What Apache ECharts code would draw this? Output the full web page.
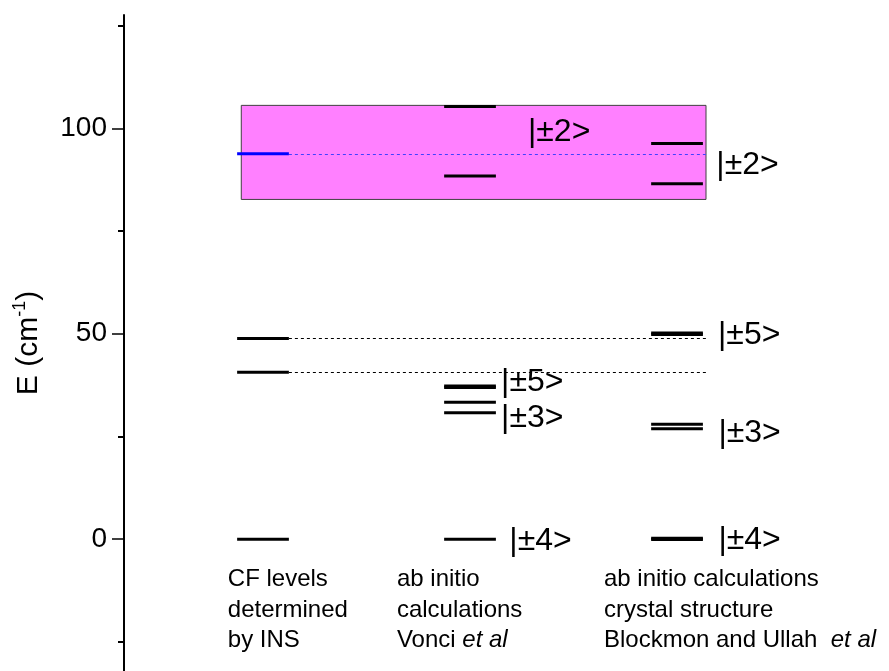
<!DOCTYPE html>
<html>
<head>
<meta charset="utf-8">
<script src="https://cdn.jsdelivr.net/npm/echarts@6/dist/echarts.min.js"></script>
<style>
  html, body { margin: 0; padding: 0; background: #fff; }
  #chart { width: 889px; height: 671px; }
</style>
</head>
<body>
<div id="chart"></div>
<script>
// Crystal-field level scheme: measured (INS) vs. two ab initio calculations.
const FONT = '"Liberation Sans", Arial, Helvetica, sans-serif';

// Column positions on the (hidden) horizontal axis
const columns = [1, 2, 3];

// Energy levels, cm^-1
const insLevels = [0, 40.6, 48.85, 93.8];
const vonciLevels = [0, 30.8, 33.3, 36.9, 37.3, 88.4, 105.3];
const blockmonLevels = [-0.1, 0.2, 26.9, 28.0, 49.8, 50.2, 86.5, 96.3];
const highlightedInsLevel = 93.8;

// Energy window of the |±2> manifold (shaded band)
const bandEnergy = [82.7, 105.6];

// Column captions
const columnCaptions = [
  'CF levels\ndetermined\nby INS',
  'ab initio\ncalculations\nVonci {i|et al}',
  'ab initio calculations\ncrystal structure\nBlockmon and Ullah  {i|et al}'
];

// State labels and where they sit (column units, energy)
const stateLabels = ['|±2>', '|±2>', '|±5>', '|±3>', '|±4>', '|±5>', '|±3>', '|±4>'];
const stateLabelX = [2.28, 3.19, 2.15, 2.15, 2.19, 3.198, 3.2, 3.2];
const stateLabelEnergy = [99, 91, 38.2, 29.4, -0.4, 49.7, 25.8, -0.2];

// Axis ticks
const yMajorTicks = [0, 50, 100];
const yMinorTicks = [-25, 25, 75, 125];

// Layout of the drawing
const LEVEL_HALF_WIDTH = 0.125;
const X_RANGE = [0.3285, 4.024];
const Y_RANGE = [-32.1, 127.6];
const BAND_X = [0.895, 3.14];
const GUIDE_END_X = 3.14;
const CAPTION_X = [0.83, 1.647, 2.647];
const CAPTION_TOP_ENERGY = -6.1;

const levelData = [];
[insLevels, vonciLevels, blockmonLevels].forEach((levels, ci) => {
  levels.forEach(e => {
    const blue = ci === 0 && e === highlightedInsLevel;
    levelData.push({ value: [columns[ci], e], itemStyle: { color: blue ? '#0000ff' : '#000000' } });
  });
});

const guideData = insLevels.filter(e => e > 0).map(e => ({
  value: [columns[0] + LEVEL_HALF_WIDTH, e, GUIDE_END_X],
  itemStyle: { color: e === highlightedInsLevel ? '#4040ff' : '#000000' }
}));

const chart = echarts.init(document.getElementById('chart'), null, { renderer: 'canvas' });

chart.setOption({
  animation: false,
  backgroundColor: '#ffffff',
  grid: { left: 124, right: 0, top: 15, bottom: 0, containLabel: false, outerBoundsMode: 'none' },
  xAxis: { type: 'value', min: X_RANGE[0], max: X_RANGE[1], show: false },
  yAxis: [
    {
      type: 'value', position: 'left', min: Y_RANGE[0], max: Y_RANGE[1],
      name: '{t|E (cm}{s|-1}{t|)}',
      nameLocation: 'middle', nameGap: 77,
      nameTextStyle: {
        rich: {
          t: { fontSize: 30, fontFamily: FONT, color: '#000', lineHeight: 36 },
          s: { fontSize: 18, fontFamily: FONT, color: '#000', lineHeight: 18, verticalAlign: 'top' }
        }
      },
      axisLine: { show: true, onZero: false, lineStyle: { color: '#000', width: 2 } },
      axisTick: { show: true, inside: false, length: 12, customValues: yMajorTicks, lineStyle: { color: '#000', width: 1.5 } },
      axisLabel: { show: true, customValues: yMajorTicks, margin: 17, fontSize: 28, fontFamily: FONT, color: '#000' },
      splitLine: { show: false }
    },
    {
      type: 'value', position: 'left', min: Y_RANGE[0], max: Y_RANGE[1],
      axisLine: { show: false, onZero: false },
      axisTick: { show: true, inside: false, length: 6, customValues: yMinorTicks, lineStyle: { color: '#000', width: 2 } },
      axisLabel: { show: false },
      splitLine: { show: false }
    }
  ],
  series: [
    {
      // shaded |±2> band
      type: 'custom', z: 1, silent: true,
      data: [[BAND_X[0], bandEnergy[0], BAND_X[1], bandEnergy[1]]],
      encode: { x: [0, 2], y: [1, 3] },
      renderItem: (params, api) => {
        const a = api.coord([api.value(0), api.value(3)]);
        const b = api.coord([api.value(2), api.value(1)]);
        return {
          type: 'rect',
          shape: { x: a[0], y: a[1], width: b[0] - a[0], height: b[1] - a[1] },
          style: { fill: '#ff80ff', stroke: '#404040', lineWidth: 1 }
        };
      }
    },
    {
      // dotted guides from the measured levels
      type: 'custom', z: 2, silent: true,
      data: guideData,
      encode: { x: [0, 2], y: 1 },
      renderItem: (params, api) => {
        const a = api.coord([api.value(0), api.value(1)]);
        const b = api.coord([api.value(2), api.value(1)]);
        return {
          type: 'line',
          shape: { x1: a[0], y1: Math.round(a[1]) + 0.5, x2: b[0], y2: Math.round(b[1]) + 0.5 },
          style: { stroke: api.visual('color'), lineWidth: 1, lineDash: [3, 3] }
        };
      }
    },
    {
      // energy levels
      type: 'custom', z: 3, silent: true,
      data: levelData,
      encode: { x: 0, y: 1 },
      renderItem: (params, api) => {
        const a = api.coord([api.value(0) - LEVEL_HALF_WIDTH, api.value(1)]);
        const b = api.coord([api.value(0) + LEVEL_HALF_WIDTH, api.value(1)]);
        return {
          type: 'line',
          shape: { x1: a[0], y1: a[1], x2: b[0], y2: b[1] },
          style: { stroke: api.visual('color'), lineWidth: 3 }
        };
      }
    },
    {
      // state labels
      type: 'custom', z: 4, silent: true,
      data: stateLabelX.map((x, i) => [x, stateLabelEnergy[i]]),
      encode: { x: 0, y: 1 },
      renderItem: (params, api) => {
        const p = api.coord([api.value(0), api.value(1)]);
        return {
          type: 'text', x: p[0], y: p[1],
          style: {
            text: stateLabels[params.dataIndex], fill: '#000',
            fontSize: 32, fontFamily: FONT, align: 'left', verticalAlign: 'middle'
          }
        };
      }
    },
    {
      // column captions
      type: 'custom', z: 4, silent: true,
      data: CAPTION_X.map(x => [x, CAPTION_TOP_ENERGY]),
      encode: { x: 0, y: 1 },
      renderItem: (params, api) => {
        const p = api.coord([api.value(0), api.value(1)]);
        return {
          type: 'text', x: p[0], y: p[1],
          style: {
            text: columnCaptions[params.dataIndex], fill: '#000',
            fontSize: 24, fontFamily: FONT, lineHeight: 30.5,
            align: 'left', verticalAlign: 'top',
            rich: { i: { fontStyle: 'italic', fontSize: 24, fontFamily: FONT, lineHeight: 30.5 } }
          }
        };
      }
    }
  ]
});
</script>
</body>
</html>
